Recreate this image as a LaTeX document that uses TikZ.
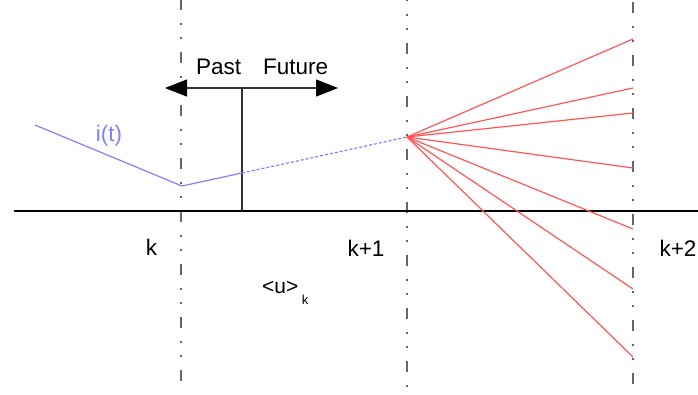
\documentclass[tikz,border=0pt]{standalone}
\usepackage{fontspec}
\setmainfont{Liberation Sans}
\usetikzlibrary{arrows.meta}
\tikzset{
  grid/.style={draw=black!60, line width=1.8pt,
    dash pattern=on 11pt off 13pt on 1.5pt off 12.5pt on 1.5pt off 13.5pt},
  axisline/.style={draw=black, line width=1.6pt},
  meas/.style={draw=black!80, line width=1.3pt},
  tip/.style={-{Triangle[length=22pt,width=17pt,black]}},
  current/.style={draw={rgb,255:red,128;green,128;blue,255}, line width=1.2pt},
  branch/.style={draw={rgb,255:red,255;green,85;blue,85}, line width=1.2pt},
  lbl/.style={inner sep=0pt, font=\fontsize{22.5}{26}\selectfont, anchor=base},
}
\begin{document}
\begin{tikzpicture}[x=1pt,y=-1pt]
\useasboundingbox (0,0) rectangle (698,394);
% sample time grid lines
\coordinate (g1t) at (181,0);   \coordinate (g1b) at (181,394);
\coordinate (g2t) at (407,0);   \coordinate (g2b) at (407,394);
\coordinate (g3t) at (633,0);   \coordinate (g3b) at (633,394);
\draw[grid, dash phase=1pt]  (g1t) -- (g1b);
\draw[grid, dash phase=10pt] (g2t) -- (g2b);
\draw[grid, dash phase=51pt] (g3t) -- (g3b);
% time axis
\coordinate (ax0) at (14,211);
\coordinate (ax1) at (698,211);
\draw[axisline] (ax0) -- (ax1);
% past / future marker
\coordinate (now) at (242,88);
\coordinate (nowb) at (242,211);
\coordinate (pastend) at (165,88);
\coordinate (futend) at (338,88);
\draw[meas] (now) -- (nowb);
\draw[meas, tip] (now) -- (pastend);
\draw[meas, tip] (now) -- (futend);
\node[lbl, anchor=base west] (past) at (196,74) {Past};
\node[lbl, anchor=base west] (future) at (263,74) {Future};
% current trajectory
\coordinate (i0) at (35,125);
\coordinate (ik) at (182,186);
\coordinate (inow) at (242,173);
\coordinate (ik1) at (407,137);
\draw[current] (i0) -- (ik) -- (inow);
\draw[current, dash pattern=on 3pt off 2pt] (inow) -- (ik1);
\node[lbl, anchor=center, text={rgb,255:red,128;green,128;blue,255}] (it) at (109,136) {i(t)};
% predicted branches
\foreach \y [count=\n] in {39,88,113,168,229,289,357}{
  \coordinate (e\n) at (633,\y);
  \draw[branch] (ik1) -- (e\n);
}
% labels
\node[lbl] (lk) at (151.5,255) {k};
\node[lbl] (lk1) at (366,256) {k+1};
\node[lbl] (lk2) at (678,256) {k+2};
\node[inner sep=0pt, anchor=base west, font=\fontsize{21}{24}\selectfont] (u) at (262,293) {<u>};
\node[inner sep=0pt, anchor=base west, font=\fontsize{13}{15}\selectfont] (uk) at (u.base east) [yshift=-11pt, xshift=3pt] {k};
\end{tikzpicture}
\end{document}
